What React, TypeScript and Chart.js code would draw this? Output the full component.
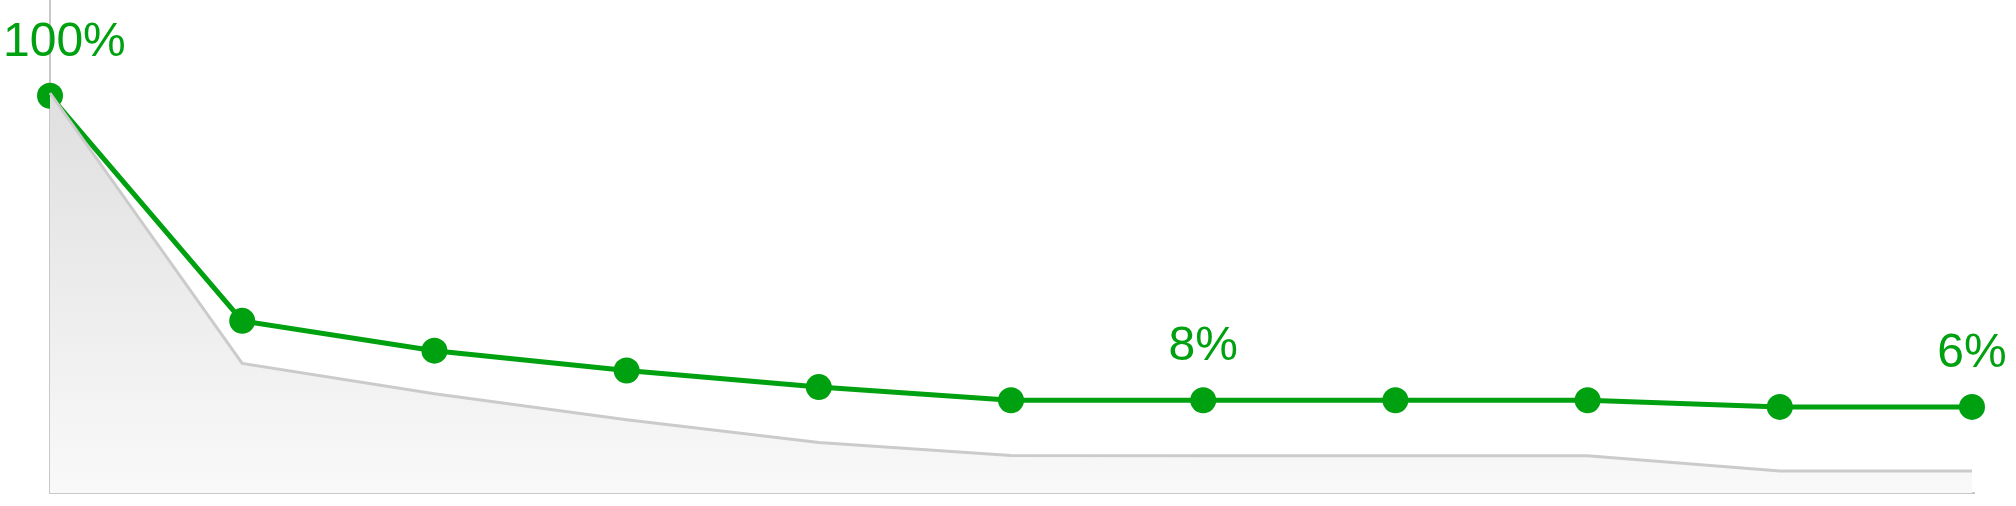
import React, { useEffect, useRef } from 'react'
import Chart, { ChartConfiguration, Plugin } from 'chart.js/auto'

const labels = ['1', '2', '3', '4', '5', '6', '7', '8', '9', '10', '11']
const retention = [100, 32, 23, 17, 12, 8, 8, 8, 8, 6, 6]
const benchmark = [100, 32.4, 24.8, 18.3, 12.6, 9.4, 9.3, 9.3, 9.3, 5.5, 5.5]
const labelledPoints = [0, 6, 10]

const GREEN = 'rgb(0, 161, 16)'
const AXIS = '#c8c8c8'

const axisLines: Plugin<'line'> = {
  id: 'axisLines',
  beforeDatasetsDraw(chart) {
    const { ctx, chartArea } = chart
    ctx.save()
    ctx.strokeStyle = AXIS
    ctx.lineWidth = 2
    ctx.beginPath()
    ctx.moveTo(chartArea.left, 0)
    ctx.lineTo(chartArea.left, chartArea.bottom)
    ctx.lineTo(chartArea.right + 3, chartArea.bottom)
    ctx.stroke()
    ctx.restore()
  },
}

const pointLabels: Plugin<'line'> = {
  id: 'pointLabels',
  afterDatasetsDraw(chart) {
    const { ctx } = chart
    const meta = chart.getDatasetMeta(1)
    ctx.save()
    ctx.font = '48px "Liberation Sans", Arial, sans-serif'
    ctx.fillStyle = GREEN
    ctx.textBaseline = 'alphabetic'
    labelledPoints.forEach((i) => {
      const pt = meta.data[i]
      const text = Math.round(retention[i]) + '%'
      const w = ctx.measureText(text).width
      let x = pt.x - w / 2
      x = Math.max(3, Math.min(chart.width - 3 - w, x))
      ctx.textAlign = 'left'
      ctx.fillText(text, x, pt.y - 40)
    })
    ctx.restore()
  },
}

const RetentionChart: React.FC = () => {
  const chartRef = useRef<HTMLCanvasElement | null>(null)
  const chartInstance = useRef<Chart | null>(null)

  useEffect(() => {
    if (!chartRef.current) return
    if (chartInstance.current) chartInstance.current.destroy()
    const ctx = chartRef.current.getContext('2d')
    if (!ctx) return

    const config: ChartConfiguration<'line'> = {
      type: 'line',
      data: {
        labels,
        datasets: [
          {
            label: 'benchmark',
            data: benchmark,
            yAxisID: 'y1',
            borderColor: '#cbcbcb',
            borderWidth: 3,
            pointRadius: 0,
            tension: 0,
            fill: 'origin',
            backgroundColor: (c) => {
              const area = c.chart.chartArea
              if (!area) return '#eeeeee'
              const g = c.chart.ctx.createLinearGradient(0, area.top, 0, area.bottom)
              g.addColorStop(0, '#dadada')
              g.addColorStop(1, '#f9f9f9')
              return g
            },
          },
          {
            label: 'retention',
            data: retention,
            yAxisID: 'y',
            borderColor: GREEN,
            backgroundColor: GREEN,
            borderWidth: 5,
            pointRadius: 13,
            pointBorderWidth: 0,
            pointBackgroundColor: GREEN,
            tension: 0,
            fill: false,
            clip: false,
          },
        ],
      },
      options: {
        animation: false,
        responsive: true,
        maintainAspectRatio: false,
        layout: { padding: { left: 50, right: 44, top: 0, bottom: 2 } },
        plugins: {
          legend: { display: false },
          tooltip: { enabled: false },
        },
        scales: {
          x: { display: false, offset: false },
          y: { display: false, min: -20, max: 125 },
          y1: { display: false, min: 0, max: 120 },
        },
      },
      plugins: [axisLines, pointLabels],
    }

    chartInstance.current = new Chart(ctx, config)
    return () => {
      if (chartInstance.current) chartInstance.current.destroy()
    }
  }, [])

  return (
    <div style={{ position: 'absolute', left: 0, top: 0, width: 2016, height: 506, background: '#fff' }}>
      <canvas ref={chartRef} />
    </div>
  )
}

export default function App() {
  return <RetentionChart />
}
